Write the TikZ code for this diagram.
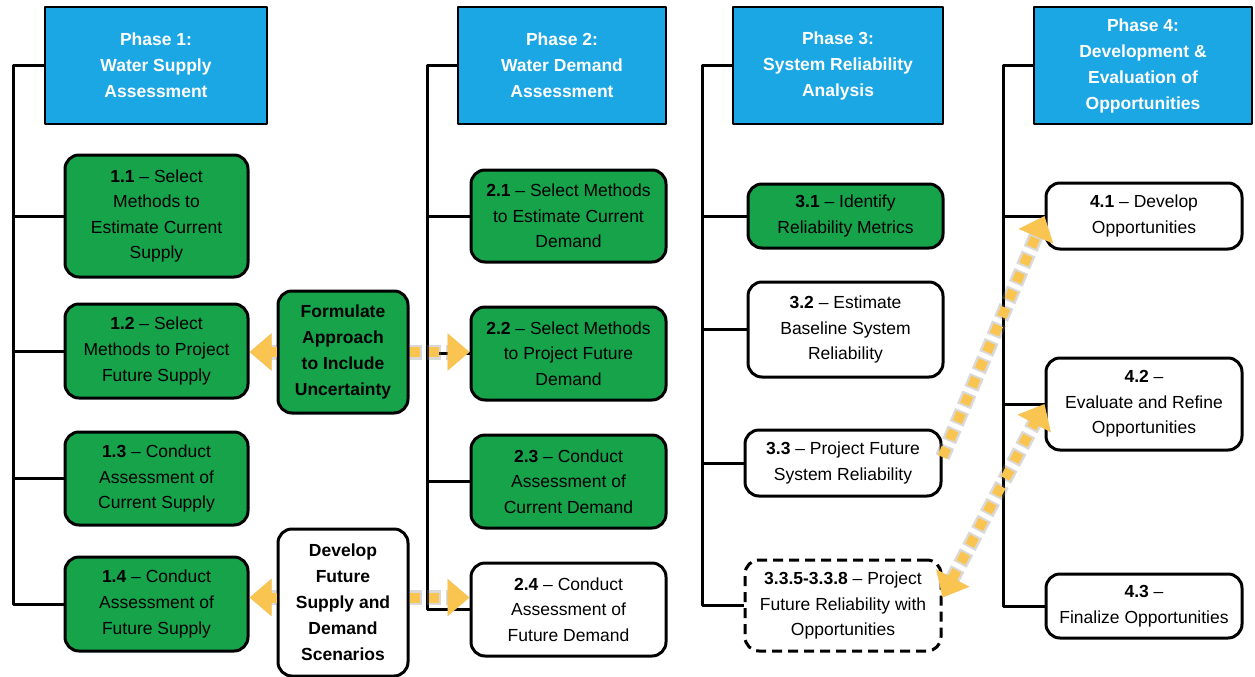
\documentclass[tikz,border=0pt]{standalone}
\usepackage{fontspec}
\setmainfont{Liberation Sans}
\usetikzlibrary{arrows.meta}
\definecolor{hblue}{RGB}{27,166,228}
\definecolor{bgreen}{RGB}{22,163,74}
\definecolor{ylw}{RGB}{250,196,80}
\begin{document}
\begin{tikzpicture}[x=1pt,y=-1pt,line join=round,
  every node/.style={font=\fontsize{17.5}{25.6}\selectfont, align=center, inner sep=0pt},
  head/.style={draw=black, line width=2.5pt, fill=hblue, text=white, font=\fontsize{17.5}{26}\selectfont\bfseries},
  gbox/.style={draw=black, line width=3pt, fill=bgreen, rounded corners=14pt},
  wbox/.style={draw=black, line width=3pt, fill=white, rounded corners=14pt},
  dbox/.style={wbox, dash pattern=on 10pt off 6pt},
  conn/.style={line width=3pt},
  yarr/.style={draw=ylw, line width=10pt, dash pattern=on 10pt off 9pt,
    preaction={draw=black!50, opacity=0.3, line width=15pt, dash pattern=on 14pt off 5pt, dash phase=2pt}},
  yend/.style={-{Triangle[length=22pt,width=36pt,fill=ylw]}},
  ybth/.style={{Triangle[length=22pt,width=36pt,fill=ylw]}-{Triangle[length=22pt,width=36pt,fill=ylw]}}
]
\useasboundingbox (0,0) rectangle (1255,677);

% headers
\node[head, minimum width=222pt, minimum height=117pt] (ph1) at (156,65.5) {Phase 1:\\Water Supply\\Assessment};
\node[head, minimum width=208pt, minimum height=117pt] (ph2) at (562,65.5) {Phase 2:\\Water Demand\\Assessment};
\node[head, minimum width=210pt, minimum height=117pt] (ph3) at (838,65.5) {Phase 3:\\System Reliability\\Analysis};
\node[head, minimum width=218pt, minimum height=117pt] (ph4) at (1143,65.5) {Phase 4:\\Development \&\\Evaluation of\\Opportunities};

% phase 1
\node[gbox, minimum width=183pt, minimum height=122pt] (b11) at (156.5,216) {\textbf{1.1} – Select\\Methods to\\Estimate Current\\Supply};
\node[gbox, minimum width=183pt, minimum height=94pt] (b12) at (156.5,351) {\textbf{1.2} – Select\\Methods to Project\\Future Supply};
\node[gbox, minimum width=183pt, minimum height=93pt] (b13) at (156.5,478.5) {\textbf{1.3} – Conduct\\Assessment of\\Current Supply};
\node[gbox, minimum width=183pt, minimum height=94pt] (b14) at (156.5,604) {\textbf{1.4} – Conduct\\Assessment of\\Future Supply};

% middle
\node[gbox, minimum width=130pt, minimum height=122pt, font=\fontsize{17.5}{26}\selectfont\bfseries] (f) at (343,352) {Formulate\\Approach\\to Include\\Uncertainty};
\node[wbox, minimum width=130pt, minimum height=147pt, font=\fontsize{17.5}{26}\selectfont\bfseries] (d) at (343,602.5) {Develop\\Future\\Supply and\\Demand\\Scenarios};

% phase 2
\node[gbox, minimum width=195pt, minimum height=92pt] (b21) at (568.5,216) {\textbf{2.1} – Select Methods\\to Estimate Current\\Demand};
\node[gbox, minimum width=195pt, minimum height=93pt] (b22) at (568.5,353.5) {\textbf{2.2} – Select Methods\\to Project Future\\Demand};
\node[gbox, minimum width=195pt, minimum height=93pt] (b23) at (568.5,481.5) {\textbf{2.3} – Conduct\\Assessment of\\Current Demand};
\node[wbox, minimum width=195pt, minimum height=93pt] (b24) at (568.5,609.5) {\textbf{2.4} – Conduct\\Assessment of\\Future Demand};

% phase 3
\node[gbox, minimum width=195pt, minimum height=64pt] (b31) at (845.5,216) {\textbf{3.1} – Identify\\Reliability Metrics};
\node[wbox, minimum width=195pt, minimum height=95pt] (b32) at (845.5,329.5) {\textbf{3.2} – Estimate\\Baseline System\\Reliability};
\node[wbox, minimum width=196pt, minimum height=66pt] (b33) at (843,463) {\textbf{3.3} – Project Future\\System Reliability};
\node[dbox, minimum width=196pt, minimum height=91pt] (b335) at (843,605.5) {\textbf{3.3.5-3.3.8} – Project\\Future Reliability with\\Opportunities};

% phase 4
\node[wbox, minimum width=196pt, minimum height=66pt] (b41) at (1144,216) {\textbf{4.1} – Develop\\Opportunities};
\node[wbox, minimum width=196pt, minimum height=92pt] (b42) at (1144,404) {\textbf{4.2} –\\Evaluate and Refine\\Opportunities};
\node[wbox, minimum width=196pt, minimum height=64pt] (b43) at (1144,606) {\textbf{4.3} –\\Finalize Opportunities};

% trunks
\coordinate (t1) at (13,0);
\coordinate (t2) at (427,0);
\coordinate (t3) at (702,0);
\coordinate (t4) at (1003,0);

\draw[conn] (ph1.west) -| (t1 |- b14.west) -- (b14.west);
\draw[conn] (t1 |- b11.west) -- (b11.west);
\draw[conn] (t1 |- b12.west) -- (b12.west);
\draw[conn] (t1 |- b13.west) -- (b13.west);

\draw[conn] (ph2.west) -| (t2 |- b24.west) -- (b24.west);
\draw[conn] (t2 |- b21.west) -- (b21.west);
\draw[conn] (t2 |- b22.west) -- (b22.west);
\draw[conn] (t2 |- b23.west) -- (b23.west);

\draw[conn] (ph3.west) -| (t3 |- b335.west) -- (b335.west);
\draw[conn] (t3 |- b31.west) -- (b31.west);
\draw[conn] (t3 |- b32.west) -- (b32.west);
\draw[conn] (t3 |- b33.west) -- (b33.west);

\draw[conn] (ph4.west) -| (t4 |- b43.west) -- (b43.west);
\draw[conn] (t4 |- b41.west) -- (b41.west);
\draw[conn] (t4 |- b42.west) -- (b42.west);

% yellow arrows
\draw[yarr, yend] (f.west) -- (b12.east |- f.west);
\draw[yarr, yend] (f.east) -- (b22.west |- f.east);
\draw[yarr, yend] ([yshift=5pt]d.west) -- ([yshift=5pt]b14.east |- d.west);
\draw[yarr, yend] ([yshift=5pt]d.east) -- ([yshift=5pt]b24.west |- d.east);
\draw[yarr, yend] ([yshift=6pt]b33.east) -- (b41.west);
\draw[yarr, ybth] ([yshift=8pt]b335.east) -- (b42.west);
\end{tikzpicture}
\end{document}
